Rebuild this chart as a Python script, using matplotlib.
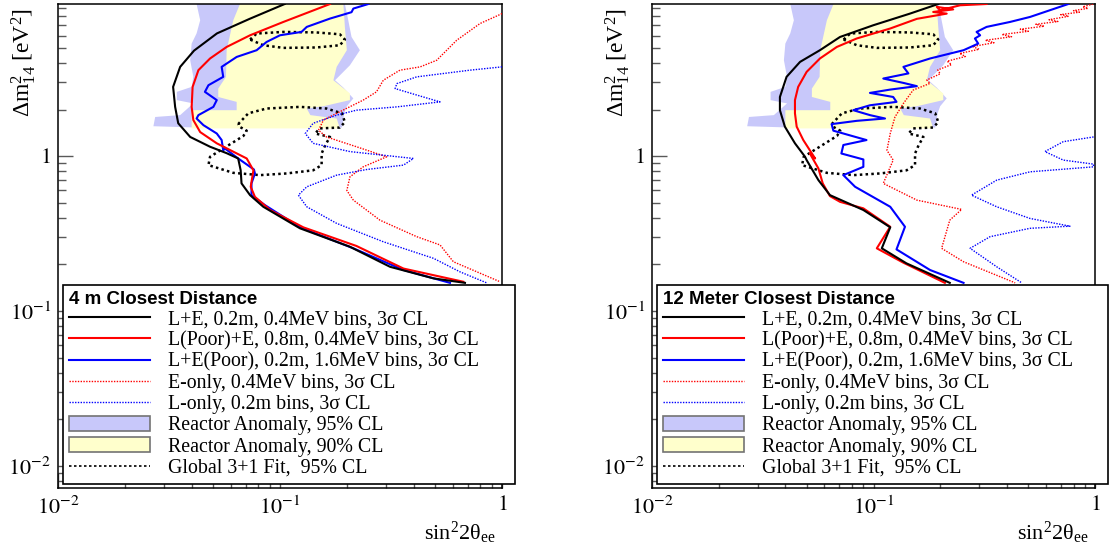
import matplotlib
matplotlib.use("Agg")
import matplotlib.pyplot as plt
from matplotlib.lines import Line2D
from matplotlib.patches import Patch
from matplotlib.ticker import LogLocator, NullFormatter

plt.rcParams['font.family'] = ['Liberation Serif', 'DejaVu Serif']
plt.rcParams['mathtext.fontset'] = 'stix'

# reactor anomaly regions (same on both panels)
ra95_x = [0.0421, 0.0437, 0.0421, 0.040, 0.0394, 0.0407, 0.040, 0.0343, 0.0343, 0.0407, 0.0355, 0.0274,
          0.0269, 0.0421, 0.19, 0.195, 0.20, 0.214, 0.193, 0.177, 0.2065, 0.229, 0.21, 0.203, 0.196]
ra95_y = [9.6, 7.54, 6.2, 5.33, 4.16, 3.25, 2.8, 2.6, 2.3, 2.19, 1.84, 1.79,
          1.56, 1.53, 1.53, 1.9, 2.1, 2.36, 2.77, 3.09, 3.86, 4.83, 5.88, 7.54, 9.6]
ra90_x = [0.066, 0.0616, 0.0575, 0.0571, 0.0527, 0.0527, 0.0638, 0.0638, 0.040, 0.040, 0.186, 0.18,
          0.137, 0.132, 0.157, 0.2065, 0.2065, 0.174, 0.18, 0.20, 0.196, 0.193]
ra90_y = [9.6, 7.54, 4.83, 3.25, 2.73, 2.41, 2.24, 1.98, 1.98, 1.51, 1.51, 1.75,
          1.84, 2.03, 2.1, 2.3, 2.54, 3.09, 3.77, 4.83, 6.83, 9.6]

# global 3+1 fit, 95% CL (two islands)
glob_a_x = [0.0733, 0.0785, 0.1035, 0.146, 0.186, 0.196, 0.186, 0.146, 0.1035, 0.0841, 0.0733]
glob_a_y = [5.66, 6.19, 6.34, 6.29, 6.12, 5.66, 5.2, 5.03, 5.0, 5.2, 5.66]
glob_b_x = [0.0648, 0.072, 0.087, 0.123, 0.162, 0.19, 0.196, 0.186, 0.151, 0.144, 0.168, 0.16, 0.154,
            0.154, 0.141, 0.107, 0.0813, 0.0616, 0.0476, 0.0484, 0.0555, 0.0684, 0.0708, 0.0656, 0.0648]
glob_b_y = [1.61, 1.89, 2.03, 2.08, 2.03, 1.89, 1.66, 1.53, 1.51, 1.4, 1.33, 1.18, 1.04,
            0.875, 0.81, 0.773, 0.754, 0.78, 0.875, 0.99, 1.12, 1.35, 1.46, 1.55, 1.61]

# 4 m closest distance
m4_le_x = [0.105, 0.073, 0.052, 0.041, 0.0355, 0.033, 0.0337, 0.0348, 0.0394, 0.0484, 0.0575,
           0.0648, 0.0665, 0.0671, 0.0733, 0.0841, 0.123, 0.2065, 0.313, 0.491, 0.681]
m4_le_y = [9.6, 7.7, 6.2, 4.8, 3.77, 2.8, 2.08, 1.63, 1.33, 1.15, 1.045,
           0.966, 0.81, 0.667, 0.56, 0.471, 0.342, 0.26, 0.193, 0.1625, 0.152]
m4_lpoor_x = [0.168, 0.1035, 0.0733, 0.0575, 0.0484, 0.0429, 0.0404, 0.040, 0.0407, 0.0437, 0.0519,
              0.0708, 0.0759, 0.0738, 0.0771, 0.0902, 0.1274, 0.221, 0.36, 0.67]
m4_lpoor_y = [9.6, 7.35, 6.03, 5.07, 4.27, 3.59, 2.8, 2.08, 1.71, 1.43, 1.21,
              0.966, 0.81, 0.634, 0.546, 0.449, 0.347, 0.263, 0.188, 0.1545]
m4_epoor_x = [0.25, 0.214, 0.21, 0.168, 0.132, 0.125, 0.10, 0.087, 0.0785, 0.0638, 0.0546, 0.0555,
              0.0476, 0.0459, 0.0519, 0.0501, 0.0429, 0.0421, 0.0452, 0.0519, 0.0546, 0.0555, 0.0565,
              0.0648, 0.0763, 0.0771, 0.0744, 0.0744, 0.0855, 0.123, 0.214, 0.36, 0.583]
m4_epoor_y = [9.6, 8.97, 8.5, 7.73, 6.83, 6.34, 6.03, 5.46, 4.83, 4.37, 3.77, 3.25,
              2.87, 2.6, 2.3, 2.08, 1.84, 1.75, 1.585, 1.4, 1.27, 1.09, 1.12,
              0.966, 0.82, 0.773, 0.667, 0.56, 0.483, 0.347, 0.254, 0.184, 0.152]
m4_eonly_x = [1.0, 0.796, 0.625, 0.508, 0.428, 0.347, 0.292, 0.272, 0.237, 0.18, 0.157, 0.149, 0.162,
              0.221, 0.302, 0.237, 0.2065, 0.20, 0.214, 0.282, 0.413, 0.526, 0.604, 0.98]
m4_eonly_y = [8.32, 7.18, 5.6, 4.16, 3.77, 3.59, 3.09, 2.6, 2.3, 1.89, 1.71, 1.47, 1.33,
              1.15, 0.99, 0.853, 0.735, 0.60, 0.52, 0.386, 0.302, 0.267, 0.208, 0.1545]
m4_lonly_x = [1.0, 0.718, 0.413, 0.336, 0.33, 0.413, 0.526, 0.336, 0.221, 0.18, 0.141, 0.13, 0.141,
              0.2065, 0.399, 0.36, 0.246, 0.18, 0.132, 0.121, 0.132, 0.18, 0.292, 0.491, 0.647, 0.853]
m4_lonly_y = [3.77, 3.59, 3.25, 2.94, 2.73, 2.48, 2.24, 2.08, 1.98, 1.84, 1.63, 1.4, 1.21,
              1.07, 0.966, 0.875, 0.82, 0.754, 0.634, 0.56, 0.471, 0.368, 0.28, 0.219, 0.179, 0.152]

# 12 meter closest distance
m12_le_x = [0.196, 0.146, 0.0998, 0.0706, 0.0573, 0.0466, 0.0405, 0.0378, 0.0378, 0.0398, 0.0442,
            0.0491, 0.0499, 0.0564, 0.0636, 0.09, 0.119, 0.109, 0.141, 0.221]
m12_le_y = [9.6, 8.32, 7.0, 5.88, 4.83, 4.06, 3.25, 2.41, 1.98, 1.55, 1.21,
            0.99, 0.943, 0.70, 0.56, 0.449, 0.347, 0.254, 0.203, 0.152]
m12_lpoor_x = [0.324, 0.246, 0.20, 0.193, 0.229, 0.186, 0.214, 0.157, 0.119, 0.084, 0.0683, 0.0573,
               0.0499, 0.0457, 0.0442, 0.0442, 0.045, 0.0482, 0.0545, 0.0516, 0.0564, 0.059, 0.0636,
               0.0706, 0.09, 0.119, 0.1035, 0.1365, 0.21]
m12_lpoor_y = [9.6, 9.42, 8.75, 9.2, 8.86, 8.53, 8.32, 7.7, 6.67, 5.75, 5.07, 4.27,
               3.5, 2.8, 2.3, 1.89, 1.55, 1.27, 0.966, 1.04, 0.833, 0.667, 0.552,
               0.507, 0.46, 0.35, 0.254, 0.205, 0.152]
m12_epoor_x = [0.758, 0.509, 0.413, 0.324, 0.292, 0.303, 0.287, 0.297, 0.255, 0.18, 0.1365, 0.1437,
               0.1107, 0.1365, 0.157, 0.119, 0.0964, 0.1227, 0.127, 0.0964, 0.081, 0.0964, 0.1127,
               0.084, 0.0647, 0.0659, 0.093, 0.0731, 0.0716, 0.09, 0.09, 0.0731, 0.0826, 0.119,
               0.1387, 0.127, 0.18, 0.255]
m12_epoor_y = [9.6, 7.92, 7.35, 6.83, 6.34, 6.03, 5.75, 5.33, 4.83, 4.27, 3.77, 3.42,
               3.17, 2.97, 2.83, 2.69, 2.56, 2.41, 2.24, 2.13, 1.98, 1.84, 1.75,
               1.69, 1.61, 1.46, 1.27, 1.18, 1.04, 0.952, 0.853, 0.754, 0.634, 0.471,
               0.35, 0.25, 0.184, 0.152]
m12_eonly_x = [0.98, 0.88, 0.93, 0.80, 0.85, 0.70, 0.76, 0.62, 0.68, 0.54, 0.59, 0.46, 0.50, 0.38,
               0.42, 0.32, 0.35, 0.28, 0.30, 0.245, 0.26, 0.215, 0.225, 0.195, 0.20, 0.174, 0.18,
               0.151, 0.1365, 0.125, 0.119, 0.115, 0.1227, 0.1107, 0.157, 0.25, 0.221, 0.203,
               0.255, 0.436]
m12_eonly_y = [9.6, 9.2, 9.0, 8.7, 8.5, 8.2, 8.0, 7.6, 7.4, 7.1, 6.9, 6.6, 6.4, 6.1,
               5.9, 5.6, 5.4, 5.1, 4.9, 4.6, 4.4, 4.1, 3.9, 3.6, 3.4, 3.1, 2.95,
               2.67, 2.19, 1.79, 1.4, 1.09, 0.943, 0.667, 0.52, 0.453, 0.386, 0.254,
               0.208, 0.152]
m12_lonly_x = [0.985, 0.719, 0.594, 0.719, 0.985, 0.985, 0.509, 0.36, 0.277, 0.36, 0.509, 0.771,
               0.509, 0.336, 0.273, 0.36, 0.467]
m12_lonly_y = [1.33, 1.24, 1.07, 0.943, 0.888, 0.853, 0.792, 0.70, 0.56, 0.471, 0.396, 0.353,
               0.342, 0.302, 0.254, 0.193, 0.152]

labels = ["L+E, 0.2m, 0.4MeV bins, 3\u03c3 CL",
          "L(Poor)+E, 0.8m, 0.4MeV bins, 3\u03c3 CL",
          "L+E(Poor), 0.2m, 1.6MeV bins, 3\u03c3 CL",
          "E-only, 0.4MeV bins, 3\u03c3 CL",
          "L-only, 0.2m bins, 3\u03c3 CL",
          "Reactor Anomaly, 95% CL",
          "Reactor Anomaly, 90% CL",
          "Global 3+1 Fit,  95% CL"]

C95 = '#c8c8fa'
C90 = '#ffffcc'


def draw_panel(ax, le, lpoor, epoor, eonly, lonly, title):
    ax.fill(ra95_x, ra95_y, color=C95, lw=0, zorder=1)
    ax.fill(ra90_x, ra90_y, color=C90, lw=0, zorder=2)
    for gx, gy in [(glob_a_x, glob_a_y), (glob_b_x, glob_b_y)]:
        ax.plot(gx, gy, color='black', lw=1.8, ls=(0, (1, 1.3)), zorder=3)
    ax.plot(*eonly, color='red', lw=1, ls=(0, (1, 1)), zorder=4)
    ax.plot(*lonly, color='blue', lw=1, ls=(0, (1, 1)), zorder=4)
    ax.plot(*epoor, color='blue', lw=1.5, zorder=5)
    ax.plot(*lpoor, color='red', lw=1.5, zorder=6)
    ax.plot(*le, color='black', lw=1.5, zorder=7)

    ax.set_xscale('log')
    ax.set_yscale('log')
    ax.set_xlim(0.01, 1)
    ax.set_ylim(0.0072, 9.6)
    ax.set_xticks([0.01, 0.1, 1])
    ax.set_xticklabels([r'$10^{-2}$', r'$10^{-1}$', r'$1$'])
    ax.set_yticks([0.01, 0.1, 1])
    ax.set_yticklabels([r'$10^{-2}$', r'$10^{-1}$', r'$1$'])
    ax.xaxis.set_minor_locator(LogLocator(base=10, subs=range(2, 10)))
    ax.yaxis.set_minor_locator(LogLocator(base=10, subs=range(2, 10)))
    ax.xaxis.set_minor_formatter(NullFormatter())
    ax.yaxis.set_minor_formatter(NullFormatter())
    ax.tick_params(which='both', direction='in', top=False, right=False, color='0.35', width=1)
    ax.tick_params(which='major', length=11, labelsize=16)
    ax.tick_params(which='minor', length=6)
    ax.tick_params(axis='x', pad=6)
    ax.tick_params(axis='y', pad=5)
    for s in ax.spines.values():
        s.set_linewidth(1.1)

    handles = [Line2D([], [], color='black', lw=1.5),
               Line2D([], [], color='red', lw=1.5),
               Line2D([], [], color='blue', lw=1.5),
               Line2D([], [], color='red', lw=1, ls=(0, (1, 1))),
               Line2D([], [], color='blue', lw=1, ls=(0, (1, 1))),
               Patch(facecolor=C95, edgecolor='0.45', lw=1.2),
               Patch(facecolor=C90, edgecolor='0.45', lw=1.2),
               Line2D([], [], color='black', lw=1.2, ls=(0, (1.5, 1.5)))]
    leg = ax.legend(handles, labels, loc='upper left', bbox_to_anchor=(0.011, 0.0, 1.018, 0.419),
                    mode='expand',
                    prop={'family': 'Liberation Serif', 'size': 14.3}, title=title,
                    title_fontproperties={'family': 'Liberation Sans', 'weight': 'bold', 'size': 13.5},
                    alignment='left', frameon=True, fancybox=False, borderpad=0.3,
                    labelspacing=0.1, handlelength=4.1, handleheight=0.75, handletextpad=0.9,
                    borderaxespad=0)
    leg.get_frame().set_edgecolor('black')
    leg.get_frame().set_linewidth(1.2)
    leg.get_frame().set_alpha(1)
    leg.set_zorder(20)

    ax.text(0.985, -0.106, r'$\mathregular{sin^{2}2\theta_{ee}}$', transform=ax.transAxes,
            ha='right', va='baseline', fontsize=16)
    ax.text(-0.077, 0.88, r'$\mathregular{\Delta m^{2}_{14}\ [eV^{2}]}$', transform=ax.transAxes,
            ha='center', va='center', rotation=90, fontsize=17)


fig = plt.figure(figsize=(11.09, 5.44), dpi=100)
ax1 = fig.add_axes([58 / 1109, 56 / 544, 444 / 1109, 484 / 544])
ax2 = fig.add_axes([652 / 1109, 56 / 544, 443 / 1109, 484 / 544])

draw_panel(ax1, (m4_le_x, m4_le_y), (m4_lpoor_x, m4_lpoor_y), (m4_epoor_x, m4_epoor_y),
           (m4_eonly_x, m4_eonly_y), (m4_lonly_x, m4_lonly_y), "4 m Closest Distance")
draw_panel(ax2, (m12_le_x, m12_le_y), (m12_lpoor_x, m12_lpoor_y), (m12_epoor_x, m12_epoor_y),
           (m12_eonly_x, m12_eonly_y), (m12_lonly_x, m12_lonly_y), "12 Meter Closest Distance")

fig.savefig('out.png', dpi=100)
